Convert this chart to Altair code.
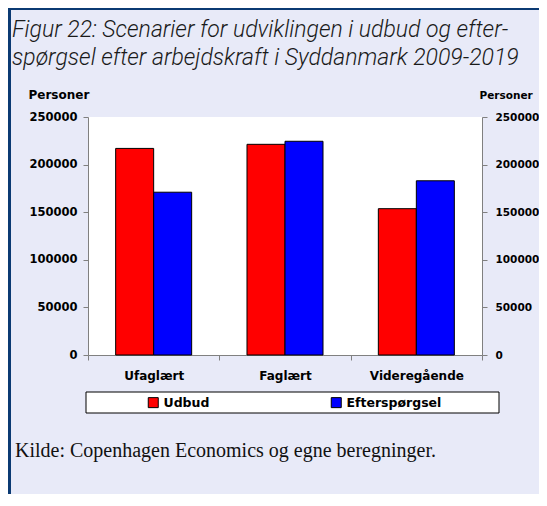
import altair as alt
import pandas as pd

categories = ["Ufaglært", "Faglært", "Videregående"]
series = ["Udbud", "Efterspørgsel"]
udbud = [217000, 221300, 153700]
efterspoergsel = [171000, 224500, 183000]
colors = ["#FF0000", "#0000FF"]
y_ticks = [0, 50000, 100000, 150000, 200000, 250000]

title_lines = [
    "Figur 22: Scenarier for udviklingen i udbud og efter-",
    "spørgsel efter arbejdskraft i Syddanmark 2009-2019",
]
y_title = "Personer"
source_note = "Kilde: Copenhagen Economics og egne beregninger."

rows = []
for c, u, e in zip(categories, udbud, efterspoergsel):
    rows.append({"kategori": c, "serie": series[0], "personer": u})
    rows.append({"kategori": c, "serie": series[1], "personer": e})
df = pd.DataFrame(rows)

BOLD = "DejaVu Sans"
TITLE_FONT = "Roboto"

x_enc = alt.X(
    "kategori:N",
    sort=categories,
    scale=alt.Scale(paddingInner=0, paddingOuter=0),
    axis=alt.Axis(
        title=None, labelAngle=0, tickBand="extent", tickSize=5,
        labelPadding=10, labelFont=BOLD, labelFontWeight="bold",
        labelFontSize=12, labelColor="black",
        domainColor="#808080", tickColor="#808080",
    ),
)
xoff_enc = alt.XOffset(
    "serie:N", sort=series,
    scale=alt.Scale(paddingOuter=0.728, paddingInner=0),
)
y_scale = alt.Scale(domain=[0, 250000], nice=False)

def y_axis(orient, title_x, label_size, title_size, label_pad):
    return alt.Axis(
        orient=orient, values=y_ticks, format="d", grid=False,
        title=y_title, titleAngle=0, titleAlign="left",
        titleBaseline="alphabetic", titleX=title_x, titleY=-19,
        titleFont=BOLD, titleFontWeight="bold", titleFontSize=title_size,
        titleColor="black",
        labelFont=BOLD, labelFontWeight="bold", labelFontSize=label_size,
        labelColor="black", labelPadding=label_pad, tickSize=5,
        domainColor="#808080", tickColor="#808080",
    )

bars = alt.Chart(df).mark_bar(stroke="black", strokeWidth=1).encode(
    x=x_enc,
    xOffset=xoff_enc,
    y=alt.Y("personer:Q", scale=y_scale, axis=y_axis("left", -60, 11.5, 12, 6)),
    color=alt.Color(
        "serie:N", sort=series,
        scale=alt.Scale(domain=series, range=colors),
        legend=alt.Legend(
            title=None, orient="none", legendX=59, legendY=279,
            direction="horizontal", symbolType="square", symbolSize=100,
            symbolStrokeColor="black", symbolStrokeWidth=1,
            symbolOpacity=1,
            labelFont=BOLD, labelFontWeight="bold", labelFontSize=12.5,
            labelColor="black", labelOffset=4, columnPadding=119,
            padding=0,
        ),
    ),
)

right_axis = alt.Chart(df).mark_bar(opacity=0).encode(
    x=x_enc,
    xOffset=xoff_enc,
    y=alt.Y("personer:Q", scale=y_scale, axis=y_axis("right", -3, 10.5, 10.5, 8)),
)

one = alt.Data(values=[{}])

legend_box = alt.Chart(one).mark_rect(
    fill="white", stroke="black", strokeWidth=1
).encode(
    x=alt.value(-2), x2=alt.value(411), y=alt.value(275), y2=alt.value(296)
)

border_top = alt.Chart(one).mark_rect(fill="#0B3A73").encode(
    x=alt.value(-80), x2=alt.value(451), y=alt.value(-109), y2=alt.value(-107)
)
border_left = alt.Chart(one).mark_rect(fill="#0B3A73").encode(
    x=alt.value(-80), x2=alt.value(-77), y=alt.value(-109), y2=alt.value(377)
)

title = alt.Chart(one).mark_text(
    text=title_lines, align="left", baseline="alphabetic",
    font=TITLE_FONT, fontStyle="italic", fontWeight=300, fontSize=23,
    lineHeight=28, color="#1a1a1a",
).encode(x=alt.value(-76), y=alt.value(-80))

note = alt.Chart(one).mark_text(
    text=source_note, align="left", baseline="alphabetic",
    font="Liberation Serif", fontSize=20, color="#111111",
).encode(x=alt.value(-73), y=alt.value(340))

chart = alt.layer(
    border_top, border_left, legend_box, bars, right_axis, title, note
).resolve_axis(y="independent").properties(
    width=394, height=238,
    autosize=alt.AutoSizeParams(type="none"),
    padding={"left": 80, "top": 109, "right": 57, "bottom": 139},
    background="#E8EAF8",
).configure_view(fill="white", stroke=None)

chart.save("out.html", embed_options={"renderer": "svg", "actions": False})
